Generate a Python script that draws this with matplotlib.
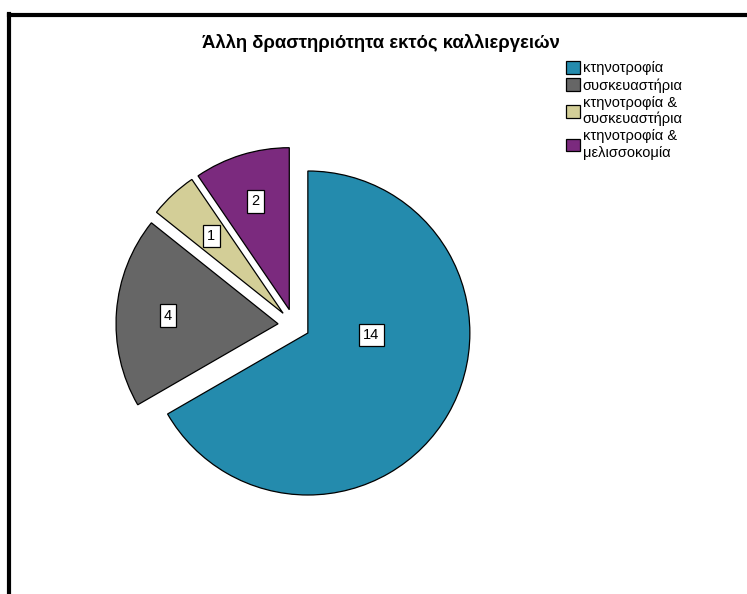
import numpy as np
import matplotlib
matplotlib.use("Agg")
import matplotlib.pyplot as plt
from matplotlib.patches import Patch

plt.rcParams['font.family'] = ['Liberation Sans', 'DejaVu Sans']

title = "Άλλη δραστηριότητα εκτός καλλιεργειών"
categories = ["κτηνοτροφία", "συσκευαστήρια", "κτηνοτροφία &\nσυσκευαστήρια", "κτηνοτροφία &\nμελισσοκομία"]
values = [14, 4, 1, 2]
colors = ["#248BAD", "#666666", "#D3CE97", "#7B2A7E"]

W, H = 747, 594
fig = plt.figure(figsize=(W / 100, H / 100), dpi=100)
ax = fig.add_axes([0, 0, 1, 1])

cx, cy, R = 294, H - 325, 162
explode = [16] * len(values)
wedges, _ = ax.pie(values, colors=colors, startangle=90, counterclock=False,
                   explode=explode, center=(cx, cy), radius=R, frame=True,
                   wedgeprops=dict(edgecolor='black', linewidth=0.9))
ax.set_xlim(0, W)
ax.set_ylim(0, H)
ax.set_aspect('equal')
ax.axis('off')

# label placement (fraction of radius, angle override or None -> mid-angle)
label_pos = [(0.48, -7.4), (0.78, None), (0.75, None), (0.80, None)]
for w, v, (rf, ang) in zip(wedges, values, label_pos):
    mid = (w.theta1 + w.theta2) / 2 if ang is None else ang
    x = cx + rf * R * np.cos(np.radians(mid))
    y = cy + rf * R * np.sin(np.radians(mid))
    ax.text(x, y, str(v), ha='center', va='center', fontsize=10.5,
            bbox=dict(boxstyle='square,pad=0.3', fc='white', ec='black', lw=0.9))

fig.text(381 / W, 1 - 43 / H, title, ha='center', va='center',
         fontsize=13.3, fontweight='bold')

handles = [Patch(facecolor=c, edgecolor='black', linewidth=0.9) for c in colors]
leg = fig.legend(handles, categories, loc='upper left', bbox_to_anchor=(566 / W, 1 - 61 / H),
                 frameon=False, fontsize=10.5, handlelength=0.95, handleheight=0.95,
                 handletextpad=0.2, labelspacing=0.2, borderaxespad=0, borderpad=0)
for t in leg.get_texts():
    t.set_linespacing(1.2)

# frame lines (top and left)
fig.add_artist(plt.Line2D([9 / W, 1], [1 - 15 / H, 1 - 15 / H], color='black', lw=3, transform=fig.transFigure))
fig.add_artist(plt.Line2D([9 / W, 9 / W], [0, 1 - 13.5 / H], color='black', lw=3, transform=fig.transFigure))

fig.savefig('out.png', dpi=100, facecolor='white')
